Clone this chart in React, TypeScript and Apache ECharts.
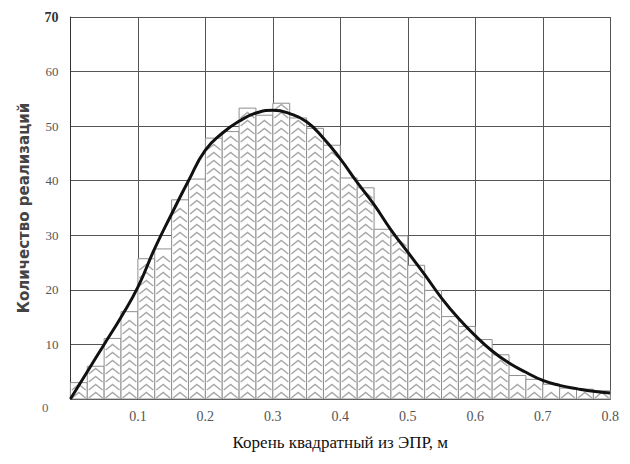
import React, { useEffect, useRef } from "react";
import * as echarts from "echarts";

// Histogram bins (width 0.025) from 0 to 0.8
const binStarts = [
  0, 0.025, 0.05, 0.075, 0.1, 0.125, 0.15, 0.175, 0.2, 0.225, 0.25, 0.275, 0.3, 0.325, 0.35, 0.375,
  0.4, 0.425, 0.45, 0.475, 0.5, 0.525, 0.55, 0.575, 0.6, 0.625, 0.65, 0.675, 0.7, 0.725, 0.75, 0.775,
];
const binWidth = 0.025;
const binCounts = [
  3, 6, 11.1, 16, 25.7, 27.5, 36.5, 40.3, 47.8, 49, 53.3, 52, 54.2, 51.5, 49.6, 46.5,
  40.5, 38.7, 31.1, 29.9, 24.5, 19.9, 15.1, 13.3, 10.9, 8.1, 4.3, 3.6, 2.7, 2, 1.8, 1.5,
];

// Fitted density curve
const curveX = [
  0, 0.025, 0.05, 0.075, 0.1, 0.125, 0.15, 0.175, 0.2, 0.225, 0.25, 0.275, 0.3, 0.325, 0.35, 0.375, 0.4,
  0.425, 0.45, 0.475, 0.5, 0.525, 0.55, 0.575, 0.6, 0.625, 0.65, 0.675, 0.7, 0.725, 0.75, 0.775, 0.8,
];
const curveY = [
  0, 5, 10, 15, 20.5, 27.6, 33.9, 40, 45.6, 48.7, 50.9, 52.4, 52.9, 52.3, 50.8, 47.8, 44,
  39.7, 35.6, 31, 26.9, 22.8, 18.5, 14.8, 11.6, 8.8, 6.6, 4.9, 3.4, 2.5, 1.9, 1.4, 1.1,
];

const xTicks = [0.1, 0.2, 0.3, 0.4, 0.5, 0.6, 0.7, 0.8];
const yTicks = [0, 10, 20, 30, 40, 50, 60, 70];

const SERIF = "'Liberation Serif', 'Times New Roman', serif";
const SANS = "'DejaVu Sans', sans-serif";

export default function App() {
  const ref = useRef<HTMLDivElement>(null);
  useEffect(() => {
    if (!ref.current) return;
    const chart = echarts.init(ref.current, undefined, { renderer: "svg" });
    const barData = binStarts.map((s, i) => [s, s + binWidth, binCounts[i]]);
    const lineData = curveX.map((x, i) => [x, curveY[i]]);

    const renderBar = (params: any, api: any) => {
      const x0 = api.value(0);
      const x1 = api.value(1);
      const v = api.value(2);
      const p0 = api.coord([x0, 0]);
      const p1 = api.coord([x1, v]);
      const left = p0[0];
      const right = p1[0];
      const bottom = p0[1];
      const top = p1[1];
      const mid = (left + right) / 2;
      const children: any[] = [
        {
          type: "rect",
          shape: { x: left, y: top, width: right - left, height: bottom - top },
          style: { fill: "#ffffff", stroke: "#8f8f8f", lineWidth: 1 },
        },
      ];
      const spacing = 8;
      const rise = 5.5;
      for (let y = bottom - 1; y - rise > top + 1; y -= spacing) {
        children.push({
          type: "polyline",
          shape: {
            points: [
              [left + 1.5, y],
              [mid, y - rise],
              [right - 1.5, y],
            ],
          },
          style: { fill: "none", stroke: "#a8a8a8", lineWidth: 1.5 },
        });
      }
      return { type: "group", children };
    };

    chart.setOption({
      animation: false,
      grid: { left: 61, right: 4, top: 9, bottom: 53, containLabel: false },
      xAxis: {
        type: "value",
        min: 0,
        max: 0.8,
        interval: 0.1,
        name: "Корень квадратный из ЭПР, м",
        nameLocation: "middle",
        nameGap: 35,
        nameTextStyle: { fontFamily: SERIF, fontSize: 17, color: "#111" },
        axisLine: { show: true, lineStyle: { color: "#333", width: 1 } },
        axisTick: { show: true, inside: true, length: 4, lineStyle: { color: "#555" } },
        minorTick: { show: true, splitNumber: 4, length: 3, lineStyle: { color: "#777" } },
        splitLine: { show: true, lineStyle: { color: "#555", width: 1 } },
        axisLabel: {
          color: "#555",
          fontFamily: SERIF,
          fontSize: 14,
          margin: 10,
          formatter: (v: number) => (xTicks.some((t) => Math.abs(t - v) < 1e-9) ? v.toFixed(1) : ""),
        },
      },
      yAxis: {
        type: "value",
        min: 0,
        max: 70,
        interval: 10,
        name: "Количество реализаций",
        nameLocation: "middle",
        nameGap: 39,
        nameRotate: 90,
        nameTextStyle: {
          fontFamily: SANS,
          fontSize: 15,
          fontWeight: "bold",
          color: "#444",
        },
        axisLine: { show: true, lineStyle: { color: "#333", width: 1 } },
        axisTick: { show: false },
        splitLine: { show: true, lineStyle: { color: "#555", width: 1 } },
        axisLabel: {
          color: "#555",
          fontFamily: SERIF,
          fontSize: 13,
          margin: 12,
          formatter: (v: number) => {
            if (!yTicks.includes(v)) return "";
            if (v === 0) return "{z|0}";
            if (v === 70) return "{b|70}";
            return String(v);
          },
          rich: {
            z: { padding: [16, 10, 0, 0], color: "#666", fontFamily: SERIF, fontSize: 13 },
            b: { color: "#333", fontFamily: SERIF, fontSize: 14, fontWeight: "bold" },
          },
        },
      },
      series: [
        {
          type: "custom",
          renderItem: renderBar,
          data: barData,
          encode: { x: [0, 1], y: 2 },
          z: 2,
        },
        {
          type: "line",
          data: lineData,
          smooth: true,
          symbol: "none",
          lineStyle: { color: "#111", width: 3 },
          z: 5,
        },
      ],
    });
    return () => chart.dispose();
  }, []);
  return <div ref={ref} style={{ width: 614, height: 448 }} />;
}
